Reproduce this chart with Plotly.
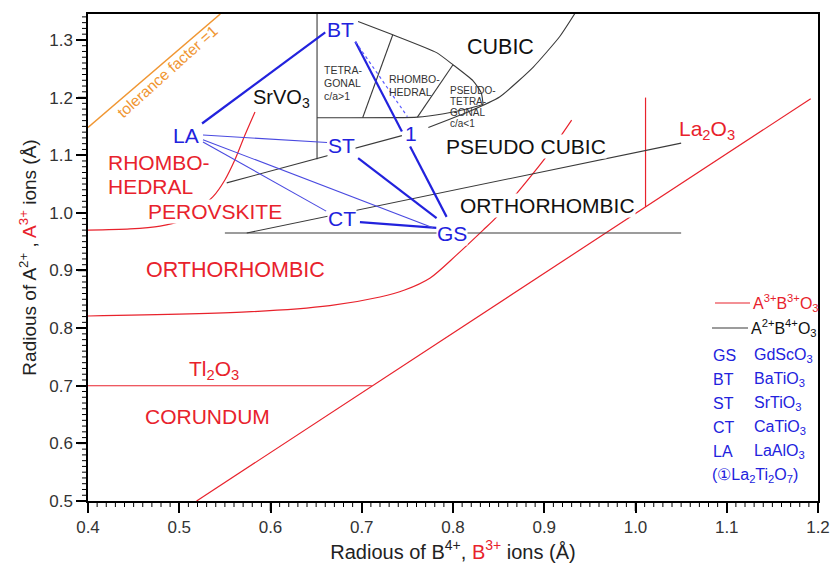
import plotly.graph_objects as go

# ---------------- data ----------------
# orange tolerance-factor line
tol_x = [0.400, 0.545]
tol_y = [1.148, 1.345]

# red boundaries (A3+B3+O3)
red_rhombo_x = [0.400, 0.446, 0.479, 0.501, 0.517, 0.537, 0.550, 0.561, 0.572, 0.583]
red_rhombo_y = [0.970, 0.972, 0.977, 0.986, 1.002, 1.028, 1.057, 1.092, 1.135, 1.175]
red_ortho_x = [0.400, 0.574, 0.665, 0.720, 0.747, 0.775, 0.804, 0.833, 0.848, 0.871, 0.901, 0.930]
red_ortho_y = [0.821, 0.828, 0.839, 0.854, 0.866, 0.887, 0.927, 0.970, 0.993, 1.036, 1.095, 1.161]
red_tl_x = [0.400, 0.711]
red_tl_y = [0.700, 0.700]
red_diag_x = [0.519, 1.192]
red_diag_y = [0.500, 1.198]
red_vert_x = [1.011, 1.011]
red_vert_y = [1.200, 1.010]

# black boundaries (A2+B4+O3)
blk_pc_x = [0.552, 0.744]
blk_pc_y = [1.052, 1.134]
blk_arc_x = [0.773, 0.815, 0.851, 0.888, 0.917, 0.934]
blk_arc_y = [1.148, 1.174, 1.201, 1.253, 1.306, 1.347]
blk_vert_x = [0.651, 0.651]
blk_vert_y = [1.345, 1.093]
lens_low_x = [0.651, 0.761, 0.790, 0.815, 0.833]
lens_low_y = [1.165, 1.166, 1.172, 1.180, 1.188]
lens_up_x = [0.696, 0.734, 0.782, 0.800, 0.822, 0.831, 0.833]
lens_up_y = [1.332, 1.309, 1.278, 1.257, 1.229, 1.208, 1.188]
div1_x = [0.734, 0.701]
div1_y = [1.309, 1.165]
div2_x = [0.800, 0.761]
div2_y = [1.257, 1.166]
blk_hz_x = [0.550, 1.050]
blk_hz_y = [0.965, 0.965]
blk_sl_x = [0.574, 1.050]
blk_sl_y = [0.965, 1.121]

# blue connections between compounds
thick_x0 = [0.525, 0.693, 0.753, 0.696, 0.698]
thick_y0 = [1.155, 1.297, 1.115, 1.095, 0.984]
thick_x1 = [0.660, 0.744, 0.793, 0.782, 0.782]
thick_y1 = [1.313, 1.141, 0.993, 0.991, 0.974]
thin_x0 = [0.526, 0.526, 0.526]
thin_y0 = [1.135, 1.123, 1.127]
thin_x1 = [0.662, 0.661, 0.778]
thin_y1 = [1.122, 1.003, 0.974]
dot_x = [0.693, 0.750]
dot_y = [1.297, 1.167]

# compound labels
cmp_names = ["BT", "LA", "ST", "CT", "GS", "1"]
cmp_x = [0.677, 0.507, 0.678, 0.678, 0.799, 0.754]
cmp_y = [1.318, 1.135, 1.116, 0.990, 0.965, 1.137]

# legend list
abbr = ["GS", "BT", "ST", "CT", "LA"]
formula = ["GdScO<sub>3</sub>", "BaTiO<sub>3</sub>", "SrTiO<sub>3</sub>",
           "CaTiO<sub>3</sub>", "LaAlO<sub>3</sub>"]

X_RANGE = [0.4, 1.2]
Y_RANGE = [0.5, 1.345]
MAJOR = 0.1
MINOR = 0.01

RED = "#e8222c"
BLK = "#3a3a3a"
BLUE = "#2222dd"
BLUE_T = "#4a4ae0"
ORANGE = "#f09632"


def join(*segs):
    out = []
    for i, s in enumerate(segs):
        if i:
            out.append(None)
        out.extend(s)
    return out


fig = go.Figure()

fig.add_trace(go.Scatter(
    x=join(red_rhombo_x, red_ortho_x), y=join(red_rhombo_y, red_ortho_y),
    mode="lines", line=dict(color=RED, width=1.2, shape="spline", smoothing=0.8),
    name="A3+B3+O3 curves", showlegend=False))
fig.add_trace(go.Scatter(
    x=join(red_tl_x, red_diag_x, red_vert_x), y=join(red_tl_y, red_diag_y, red_vert_y),
    mode="lines", line=dict(color=RED, width=1.2),
    name="A3+B3+O3", showlegend=False))
fig.add_trace(go.Scatter(
    x=join(blk_arc_x, lens_low_x, lens_up_x), y=join(blk_arc_y, lens_low_y, lens_up_y),
    mode="lines", line=dict(color=BLK, width=1.1, shape="spline", smoothing=0.5),
    name="A2+B4+O3 curves", showlegend=False))
fig.add_trace(go.Scatter(
    x=join(blk_pc_x, blk_vert_x, div1_x, div2_x, blk_hz_x, blk_sl_x),
    y=join(blk_pc_y, blk_vert_y, div1_y, div2_y, blk_hz_y, blk_sl_y),
    mode="lines", line=dict(color=BLK, width=1.1),
    name="A2+B4+O3", showlegend=False))
fig.add_trace(go.Scatter(x=tol_x, y=tol_y, mode="lines",
                         line=dict(color=ORANGE, width=1.5), showlegend=False))

tx, ty = [], []
for a, b, c, d in zip(thick_x0, thick_y0, thick_x1, thick_y1):
    tx += [a, c, None]
    ty += [b, d, None]
fig.add_trace(go.Scatter(x=tx, y=ty, mode="lines",
                         line=dict(color=BLUE, width=2.2), showlegend=False))
nx, ny = [], []
for a, b, c, d in zip(thin_x0, thin_y0, thin_x1, thin_y1):
    nx += [a, c, None]
    ny += [b, d, None]
fig.add_trace(go.Scatter(x=nx, y=ny, mode="lines",
                         line=dict(color=BLUE_T, width=1.1), showlegend=False))
fig.add_trace(go.Scatter(x=dot_x, y=dot_y, mode="lines",
                         line=dict(color="#5a5aff", width=1.2, dash="dot"),
                         showlegend=False))

FONT = "Liberation Sans, Arial, sans-serif"
ann = []
X0, X1, YT, YB = 88, 818, 14, 501
PW, PH = X1 - X0, YB - YT


def px(p):
    return (p - X0) / PW


def py(p):
    return (YB - p) / PH


def text(x, y, s, color, size, bg=None, xanchor="center", yanchor="middle",
         angle=0, ref="data", yshift=0):
    d = dict(x=x, y=y, text=s, showarrow=False,
             font=dict(family=FONT, size=size, color=color),
             xanchor=xanchor, yanchor=yanchor, textangle=angle, yshift=yshift,
             borderpad=0)
    if ref == "paper":
        d.update(xref="paper", yref="paper")
    if bg:
        d["bgcolor"] = bg
    ann.append(d)


for n, x, y in zip(cmp_names, cmp_x, cmp_y):
    text(x, y, n, BLUE, 21, bg="white")

text(0.487, 1.245, "tolerance facter =1", ORANGE, 15.5, angle=-42)
text(0.612, 1.198, "SrVO<sub>3</sub>", "#111111", 20)
text(0.852, 1.288, "CUBIC", "#111111", 21.5)
text(0.880, 1.115, "PSEUDO CUBIC", "#111111", 21, bg="white")
text(0.904, 1.012, "ORTHORHOMBIC", "#111111", 21, bg="white")

small = "#333333"
for i, s in enumerate(["TETRA-", "GONAL", "c/a>1"]):
    text(0.658, 1.247, s, small, 10.5, xanchor="left", yshift=-13 * i)
for i, s in enumerate(["RHOMBO-", "HEDRAL"]):
    text(0.729, 1.232, s, small, 10.5, xanchor="left", yshift=-13 * i)
for i, s in enumerate(["PSEUDO-", "TETRA-", "GONAL", "c/a<1"]):
    text(0.796, 1.213, s, small, 10, xanchor="left", yshift=-11 * i)

text(0.421, 1.087, "RHOMBO-", RED, 21, xanchor="left")
text(0.421, 1.045, "HEDRAL", RED, 21, xanchor="left")
text(0.539, 1.003, "PEROVSKITE", RED, 21, bg="white")
text(0.562, 0.901, "ORTHORHOMBIC", RED, 21.5)
text(0.538, 0.727, "Tl<sub>2</sub>O<sub>3</sub>", RED, 21)
text(0.531, 0.646, "CORUNDUM", RED, 21)
text(1.078, 1.143, "La<sub>2</sub>O<sub>3</sub>", RED, 21)

# legend (drawn by hand so the plot area is not resized)
shapes = [
    dict(type="line", xref="paper", yref="paper", x0=px(715), x1=px(750),
         y0=py(303), y1=py(303), line=dict(color=RED, width=1.2)),
    dict(type="line", xref="paper", yref="paper", x0=px(712), x1=px(748),
         y0=py(328), y1=py(328), line=dict(color=BLK, width=1.2)),
]
text(px(752), py(303), "A<sup>3+</sup>B<sup>3+</sup>O<sub>3</sub>", RED, 16,
     xanchor="left", ref="paper")
text(px(750), py(328), "A<sup>2+</sup>B<sup>4+</sup>O<sub>3</sub>", "#111111", 16,
     xanchor="left", ref="paper")

rows_y = [355, 379, 403, 427, 451]
for a, f, yy in zip(abbr, formula, rows_y):
    text(px(712), py(yy), a, BLUE, 16, xanchor="left", ref="paper")
    text(px(753), py(yy), f, BLUE, 16, xanchor="left", ref="paper")
text(px(711), py(475),
     "(\u2460La<sub>2</sub>Ti<sub>2</sub>O<sub>7</sub>)", BLUE, 16,
     xanchor="left", ref="paper")

# outward tick marks (major every 0.1, minor every 0.01) along bottom and left axes
MAJ_LEN, MIN_LEN = 10, 6
nx_t = int(round((X_RANGE[1] - X_RANGE[0]) / MINOR))
for i in range(nx_t + 1):
    f = i / nx_t
    is_major = i % int(round(MAJOR / MINOR)) == 0
    L = MAJ_LEN if is_major else MIN_LEN
    shapes.append(dict(type="line", xref="paper", yref="paper", x0=f, x1=f,
                       y0=0, y1=-L / PH,
                       line=dict(color="black", width=1.5 if is_major else 1)))
y_first = Y_RANGE[0]
ny_t = int((Y_RANGE[1] - Y_RANGE[0]) / MINOR + 1e-9)
for i in range(ny_t + 1):
    v = y_first + i * MINOR
    f = (v - Y_RANGE[0]) / (Y_RANGE[1] - Y_RANGE[0])
    is_major = i % int(round(MAJOR / MINOR)) == 0
    L = MAJ_LEN if is_major else MIN_LEN
    shapes.append(dict(type="line", xref="paper", yref="paper", y0=f, y1=f,
                       x0=0, x1=-L / PW,
                       line=dict(color="black", width=1.5 if is_major else 1)))

axis_common = dict(
    showline=True, linecolor="black", linewidth=1.5, mirror=True,
    ticks="outside", ticklen=MAJ_LEN, tickwidth=1.5, tickcolor="black",
    showgrid=False, zeroline=False, automargin=False,
    tickfont=dict(family=FONT, size=17, color="#333333"),
)

fig.update_layout(
    width=830, height=567,
    margin=dict(l=X0, r=830 - X1, t=YT, b=567 - YB),
    paper_bgcolor="white", plot_bgcolor="white",
    font=dict(family=FONT),
    annotations=ann, shapes=shapes,
    showlegend=False,
    xaxis=dict(range=X_RANGE, tickmode="linear", tick0=X_RANGE[0], dtick=MAJOR, tickformat=".1f",
               title=dict(text="Radious of B<sup>4+</sup>, <span style='color:#e8222c'>B<sup>3+</sup></span> ions (\u00c5)",
                          font=dict(family=FONT, size=20, color="#222222"), standoff=6),
               **axis_common),
    yaxis=dict(range=Y_RANGE, tickmode="linear", tick0=Y_RANGE[0], dtick=MAJOR, tickformat=".1f",
               title=dict(text="Radious of A<sup>2+</sup> , <span style='color:#e8222c'>A<sup>3+</sup></span> ions (\u00c5)",
                          font=dict(family=FONT, size=19, color="#222222"), standoff=8),
               **axis_common),
)

fig.write_html("out.html")
